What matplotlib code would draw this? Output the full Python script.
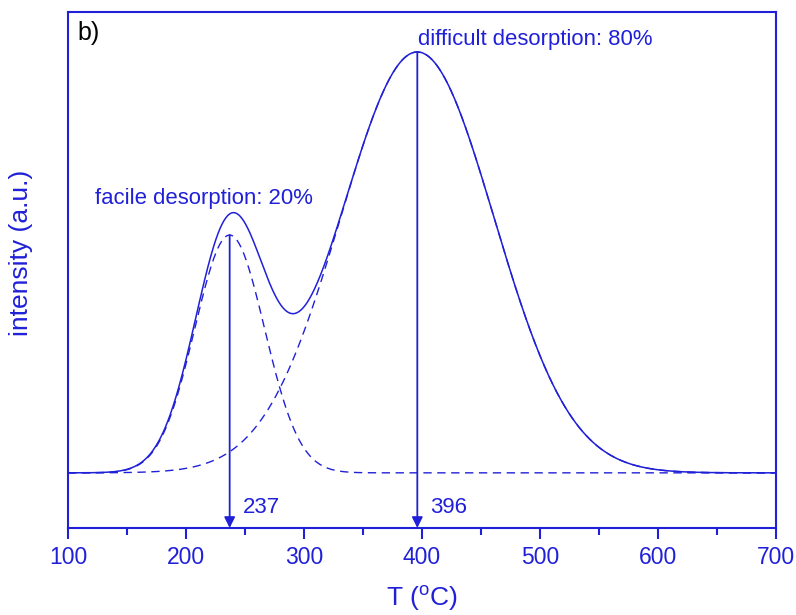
import numpy as np
import matplotlib
matplotlib.use("Agg")
import matplotlib.pyplot as plt

plt.rcParams['font.family'] = ['Liberation Sans', 'DejaVu Sans']
plt.rcParams['mathtext.fontset'] = 'custom'
plt.rcParams['mathtext.rm'] = 'Liberation Sans'

BLUE = '#2020d8'

# peak decomposition (height normalised to the big peak)
peak_centers = [237, 396]
peak_heights = [0.565, 1.0]
peak_widths = [29.6, 65.0]
peak_labels = ['facile desorption: 20%', 'difficult desorption: 80%']
x_ticks = [100, 200, 300, 400, 500, 600, 700]

T = np.linspace(100, 700, 1201)
comps = [h * np.exp(-(T - c) ** 2 / (2 * w ** 2))
         for c, h, w in zip(peak_centers, peak_heights, peak_widths)]
total = comps[0] + comps[1]

fig = plt.figure(figsize=(7.96, 6.15), dpi=100)
ax = fig.add_axes([0.0854, 0.1415, 0.8896, 0.839])

for comp in comps:
    ax.plot(T, comp, color=BLUE, lw=1.0, ls=(0, (6, 4)))
ax.plot(T, total, color=BLUE, lw=1.1)

ymin, ymax = -0.131, 1.095
ax.set_xlim(100, 700)
ax.set_ylim(ymin, ymax)

# arrows from the peak tops down to the axis
tops = [peak_heights[0], np.interp(peak_centers[1], T, total)]
for c, top in zip(peak_centers, tops):
    ax.annotate('', xy=(c, ymin), xytext=(c, top),
                arrowprops=dict(arrowstyle='-|>', color=BLUE, lw=1.3,
                                mutation_scale=16, shrinkA=0, shrinkB=0))
    ax.text(c + 11, -0.083, str(c), color=BLUE, fontsize=16, va='center')

ax.text(123, 0.653, peak_labels[0], color=BLUE, fontsize=15.9, va='center')
ax.text(397, 1.03, peak_labels[1], color=BLUE, fontsize=15.9, va='center')
ax.text(0.013, 0.982, 'b)', transform=ax.transAxes, fontsize=18,
        color='black', va='top')

ax.set_xticks(x_ticks)
ax.set_xticks([150, 250, 350, 450, 550, 650], minor=True)
ax.set_yticks([])
ax.tick_params(axis='x', which='major', direction='out', length=8, width=1.5,
               colors=BLUE, labelsize=16.5, pad=5)
ax.tick_params(axis='x', which='minor', direction='out', length=5, width=1.5,
               colors=BLUE)
for sp in ax.spines.values():
    sp.set_color(BLUE)
    sp.set_linewidth(1.5)

ax.set_xlabel('T ($^{\\mathrm{o}}$C)', fontsize=19, color=BLUE, labelpad=10)
ax.set_ylabel('intensity (a.u.)', fontsize=19, color=BLUE)
ax.yaxis.set_label_coords(-0.049, 0.533)

fig.savefig('out.png', dpi=100)
